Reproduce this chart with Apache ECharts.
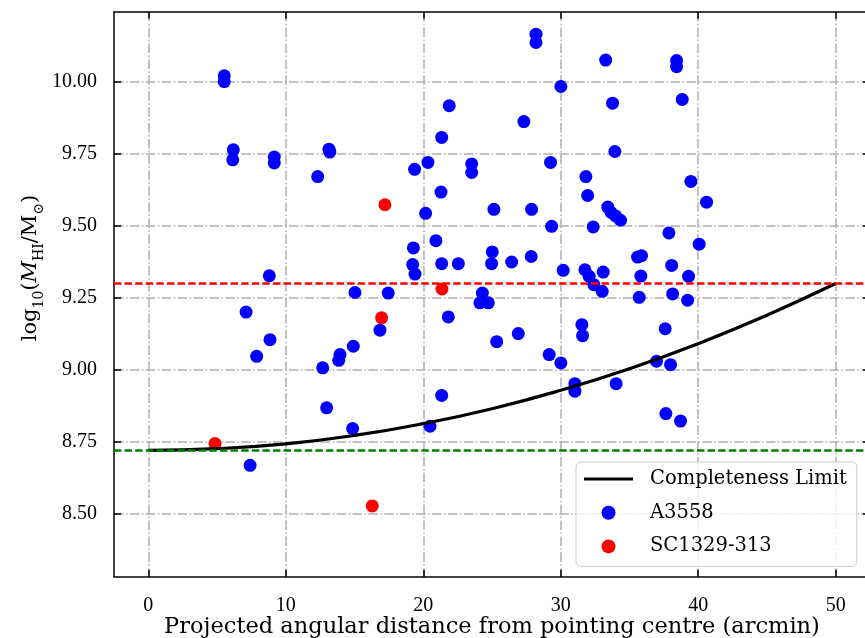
<!DOCTYPE html>
<html><head><meta charset="utf-8">
<script src="https://cdn.jsdelivr.net/npm/echarts@6/dist/echarts.min.js"></script>
<style>html,body{margin:0;padding:0;background:#fff}#c{width:865px;height:638px}</style>
</head><body><div id="c"></div>
<script>
const xTicks = [0, 10, 20, 30, 40, 50];
const yTicks = [8.5, 8.75, 9.0, 9.25, 9.5, 9.75, 10.0];
const a3558 = [
  [5.52,10.022],[5.52,10.002],[6.18,9.765],[6.14,9.730],[9.16,9.740],[9.16,9.719],[12.32,9.672],
  [13.14,9.767],[13.2,9.757],[8.80,9.327],[15.03,9.269],[7.11,9.201],[8.85,9.105],[7.88,9.047],
  [12.68,9.007],[13.94,9.053],[13.85,9.033],[14.91,9.082],[12.97,8.868],[14.86,8.796],[7.40,8.668],
  [28.2,10.167],[28.2,10.138],[33.27,10.077],[30.01,9.985],[33.77,9.927],[21.89,9.918],[27.32,9.863],
  [21.34,9.808],[33.94,9.759],[20.34,9.721],[19.37,9.697],[23.52,9.716],[23.52,9.686],[29.26,9.721],
  [31.83,9.672],[31.96,9.606],[21.29,9.618],[20.17,9.544],[25.14,9.558],[27.88,9.558],
  [33.42,9.566],[33.67,9.547],[33.99,9.535],[34.35,9.520],[29.34,9.499],[32.36,9.497],
  [19.28,9.424],[20.92,9.449],[19.23,9.366],[19.40,9.333],[21.34,9.369],[22.55,9.369],
  [25.02,9.410],[24.97,9.369],[26.43,9.375],[27.85,9.394],[30.18,9.346],[31.76,9.348],[32.07,9.325],
  [32.41,9.296],[33.09,9.340],[33.02,9.273],[17.45,9.267],[24.3,9.267],[24.12,9.233],[24.73,9.233],
  [38.43,10.075],[38.43,10.054],[38.84,9.940],[39.47,9.655],[40.61,9.583],[37.87,9.476],[40.07,9.437],
  [35.59,9.392],[35.88,9.397],[38.07,9.363],[35.83,9.326],[39.30,9.325],[35.71,9.252],[38.14,9.264],
  [39.23,9.242],[16.85,9.138],[21.82,9.184],[25.34,9.098],[26.91,9.126],[29.16,9.053],[30.01,9.024],
  [31.54,9.157],[31.59,9.119],[31.03,8.952],[31.03,8.926],[34.03,8.952],[21.34,8.911],[20.49,8.804],
  [37.6,9.143],[36.97,9.030],[37.99,9.018],[37.65,8.848],[38.72,8.822]
];
const sc1329 = [[17.21,9.574],[21.36,9.281],[16.97,9.181],[4.85,8.744],[16.29,8.527]];
const limitX = [0, 5, 10, 15, 20, 25, 30, 35, 40, 45, 50];
const limitY = [8.72, 8.726, 8.743, 8.772, 8.813, 8.865, 8.929, 9.004, 9.091, 9.190, 9.30];
const hiLimit = 9.30;
const completenessLevel = 8.722;

const limitData = limitX.map((x, i) => [x, limitY[i]]);
const tickFont = 'Liberation Serif';
const textFont = 'DejaVu Serif';
const gridStyle = { color: '#b0b0b0', width: 1.5, type: [9.6, 2.4, 1.5, 2.4] };
const lineIcon = 'path://M0,0L49,0L49,0.01L0,0.01Z M0,5.4L49,5.4L49,8.6L0,8.6Z M0,13.99L49,13.99L49,14L0,14Z';

const chart = echarts.init(document.getElementById('c'), null, { renderer: 'canvas' });
const baseX = { type: 'value', min: -2.5, max: 52.5, gridIndex: 0 };
const baseY = { type: 'value', min: 8.281, max: 10.245, gridIndex: 0 };
chart.setOption({
  animation: false,
  backgroundColor: '#fff',
  grid: { left: 114, top: 11.7, width: 756, height: 565, containLabel: false, outerBoundsMode: 'none' },
  xAxis: [
    Object.assign({}, baseX, {
      position: 'bottom',
      axisLine: { onZero: false, lineStyle: { color: '#000', width: 1.5 } },
      axisTick: { inside: true, length: 7, customValues: xTicks, lineStyle: { color: '#000', width: 1.5 } },
      axisLabel: { customValues: xTicks, margin: 19, color: '#000', fontFamily: tickFont, fontSize: 20 },
      splitLine: { show: true, lineStyle: gridStyle },
      name: 'Projected angular distance from pointing centre (arcmin)',
      nameLocation: 'middle', nameGap: 38.5, nameMoveOverlap: false,
      nameTextStyle: { fontFamily: textFont, fontSize: 22.5, color: '#000' }
    }),
    Object.assign({}, baseX, {
      position: 'top',
      axisLine: { onZero: false, lineStyle: { color: '#000', width: 1.5 } },
      axisTick: { inside: true, length: 7, customValues: xTicks, lineStyle: { color: '#000', width: 1.5 } },
      axisLabel: { show: false },
      splitLine: { show: false }
    })
  ],
  yAxis: [
    Object.assign({}, baseY, {
      position: 'left',
      axisLine: { onZero: false, lineStyle: { color: '#000', width: 1.5 } },
      axisTick: { inside: true, length: 7, customValues: yTicks, lineStyle: { color: '#000', width: 1.5 } },
      axisLabel: { customValues: yTicks, margin: 17, color: '#000', fontFamily: tickFont, fontSize: 20,
        formatter: v => Number(v).toFixed(2) },
      splitLine: { show: true, lineStyle: gridStyle }
    }),
    Object.assign({}, baseY, {
      position: 'right',
      axisLine: { onZero: false, lineStyle: { color: '#000', width: 1.5 } },
      axisTick: { inside: true, length: 7, customValues: yTicks, lineStyle: { color: '#000', width: 1.5 } },
      axisLabel: { show: false },
      splitLine: { show: false }
    })
  ],
  legend: {
    left: 576, top: 462, orient: 'vertical',
    data: [{ name: 'Completeness Limit', icon: lineIcon }, { name: 'A3558' }, { name: 'SC1329-313' }],
    itemWidth: 49, itemHeight: 14, itemGap: 13.7,
    padding: [7, 10, 10, 8],
    backgroundColor: 'rgba(255,255,255,0.8)',
    borderColor: '#cccccc', borderWidth: 1, borderRadius: 5,
    textStyle: { fontFamily: textFont, fontSize: 19.5, color: '#000', lineHeight: 20, padding: [0, 0, 0, 12] },
    selectedMode: false
  },
  graphic: [{
    type: 'text', x: 31, y: 268, rotation: Math.PI / 2, silent: true,
    style: {
      text: '{n|log}{s|10}{n|(}{i|M}{s|HI}{n|/M}{s|\u2299}{n|)}',
      align: 'center', verticalAlign: 'middle', fill: '#000',
      rich: {
        n: { fontFamily: textFont, fontSize: 21, lineHeight: 30, fill: '#000' },
        i: { fontFamily: textFont, fontSize: 21, lineHeight: 30, fontStyle: 'italic', fill: '#000' },
        s: { fontFamily: textFont, fontSize: 14, lineHeight: 14, verticalAlign: 'bottom', fill: '#000' }
      }
    }
  }],
  series: [
    {
      name: 'A3558', type: 'scatter', data: a3558, symbol: 'circle', symbolSize: 13, z: 2,
      itemStyle: { color: '#0000ff', opacity: 1 }, silent: true
    },
    {
      name: 'SC1329-313', type: 'scatter', data: sc1329, symbol: 'circle', symbolSize: 13, z: 2,
      itemStyle: { color: '#ff0000', opacity: 1 }, silent: true
    },
    {
      name: 'Completeness Limit', type: 'line', data: limitData, smooth: true, symbol: 'none',
      showSymbol: false, z: 4, silent: true,
      lineStyle: { color: '#000', width: 3.2 }, itemStyle: { color: '#000' },
      markLine: {
        silent: true, symbol: ['none', 'none'], label: { show: false }, z: 5,
        data: [
          { yAxis: hiLimit, lineStyle: { color: '#ff0000', width: 2.5, type: [7.4, 3.2] } },
          { yAxis: completenessLevel, lineStyle: { color: '#008000', width: 2.5, type: [7.4, 3.2] } }
        ]
      }
    }
  ]
});
</script>
</body></html>
